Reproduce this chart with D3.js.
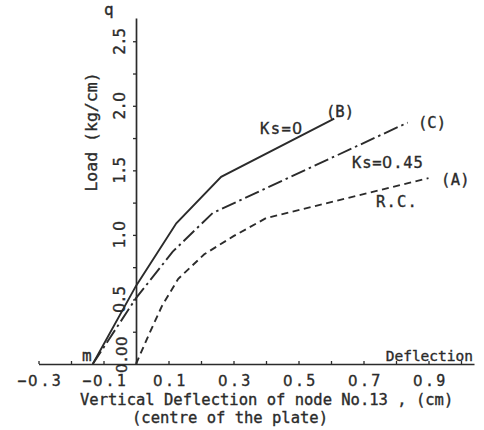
<!DOCTYPE html>
<html>
<head>
<meta charset="utf-8">
<script src="https://cdn.jsdelivr.net/npm/d3@7"></script>
<style>
  @font-face {
    font-family: "PlainZero";
    src: local("DejaVu Sans"), local("DejaVuSans");
    unicode-range: U+0030;
  }
  html, body { margin: 0; padding: 0; background: #fff; }
  svg { display: block; }
  text { font-family: "PlainZero", "DejaVu Sans Mono", monospace; fill: #2b2b2b; stroke: #2b2b2b; stroke-width: 0.35px; }
</style>
</head>
<body>
<svg id="chart" width="484" height="430"></svg>
<script>
// ---- data ----
// Curve (B): Ks = 0, solid
const curveB_x = [-0.133, 0.0, 0.124, 0.262, 0.61];
const curveB_q = [0.0, 0.605, 1.09, 1.45, 1.90];
// Curve (C): Ks = 0.45, dash-dot
const curveC_x = [-0.133, 0.0, 0.113, 0.236, 0.836];
const curveC_q = [0.0, 0.51, 0.87, 1.17, 1.87];
// Curve (A): R.C., dashed
const curveA_x = [0.0, 0.04, 0.08, 0.13, 0.21, 0.30, 0.40, 0.90];
const curveA_q = [0.0, 0.23, 0.45, 0.66, 0.85, 0.99, 1.13, 1.44];

const xTicks = [-0.3, -0.2, -0.1, 0.0, 0.1, 0.2, 0.3, 0.4, 0.5, 0.6, 0.7, 0.8, 0.9, 1.0];
const xTickLabels = [-0.3, -0.1, 0.1, 0.3, 0.5, 0.7, 0.9];
const yTicks = [0.25, 0.5, 0.75, 1.0, 1.25, 1.5, 1.75, 2.0, 2.25, 2.5];
const yTickLabels = [0.5, 1.0, 1.5, 2.0, 2.5];
const yZeroLabel = "0.00";

const xTitle1 = "Vertical Deflection of node No.13 , (cm)";
const xTitle2 = "(centre of the plate)";
const yTitle = "Load (kg/cm)";

// ---- drawing ----
const svg = d3.select("#chart");
const ink = "#2b2b2b";
const fontStack = '"PlainZero", "DejaVu Sans Mono", monospace';

const x = d3.scaleLinear().domain([-0.3, 1.04]).range([38.5, 474]);
const y = d3.scaleLinear().domain([0, 2.68]).range([364, 18]);

// X axis (ticks upward, labels below)
const xLs = 2.2;
const xAxis = d3.axisBottom(x)
  .tickValues(xTicks)
  .tickSizeInner(-3)
  .tickSizeOuter(0)
  .tickPadding(11)
  .tickFormat(d => xTickLabels.some(v => Math.abs(v - d) < 1e-9) ? d3.format(".1f")(d) : "");
const gx = svg.append("g").attr("transform", `translate(0,${y(0)})`).call(xAxis);
gx.attr("font-family", null).attr("font-size", null);
gx.select(".domain").attr("stroke", ink).attr("stroke-width", 1.7);
gx.selectAll(".tick line").attr("stroke", ink).attr("stroke-width", 1.3);
gx.selectAll(".tick text")
  .attr("fill", ink)
  .style("font-family", fontStack)
  .style("font-size", "15px")
  .style("letter-spacing", xLs + "px")
  .attr("dx", (xLs / 2) + "px");

// Y axis (ticks to the left, rotated labels)
const yAxis = d3.axisLeft(y)
  .tickValues(yTicks)
  .tickSizeInner(3)
  .tickSizeOuter(0)
  .tickFormat("");
const gy = svg.append("g").attr("transform", `translate(${x(0)},0)`).call(yAxis);
gy.select(".domain").attr("stroke", ink).attr("stroke-width", 1.7);
gy.selectAll(".tick line").attr("stroke", ink).attr("stroke-width", 1.3);

svg.append("g").selectAll("text")
  .data(yTickLabels)
  .join("text")
  .attr("transform", d => `translate(${x(0) - 11},${y(d)}) rotate(-90)`)
  .attr("text-anchor", "middle")
  .style("font-size", "16px")
  .style("letter-spacing", "-1px")
  .attr("dx", "-0.5px")
  .text(d => d3.format(".1f")(d));

svg.append("text")
  .attr("transform", `translate(${x(0) - 9},${y(0) - 9}) rotate(-90)`)
  .attr("text-anchor", "middle")
  .style("font-size", "14.5px")
  .style("letter-spacing", "-0.5px")
  .text(yZeroLabel);

// Curves
const line = d3.line().x(d => x(d[0])).y(d => y(d[1]));
const series = [
  { xs: curveB_x, qs: curveB_q, dash: null },
  { xs: curveC_x, qs: curveC_q, dash: "15,4,2.5,4" },
  { xs: curveA_x, qs: curveA_q, dash: "7,4.5" }
];
svg.append("g").selectAll("path")
  .data(series)
  .join("path")
  .attr("d", s => line(s.xs.map((v, i) => [v, s.qs[i]])))
  .attr("fill", "none")
  .attr("stroke", ink)
  .attr("stroke-width", 1.9)
  .attr("stroke-dasharray", s => s.dash);

// Annotations
function label(txt, px, py, opts = {}) {
  svg.append("text")
    .attr("x", px).attr("y", py)
    .attr("text-anchor", opts.anchor || "start")
    .style("font-size", (opts.size || 15.5) + "px")
    .style("letter-spacing", (opts.ls === undefined ? 1 : opts.ls) + "px")
    .text(txt);
}
label("Ks=0", 260, 134, { ls: 1.4 });
label("(B)", 326, 117, { ls: 0 });
label("(C)", 418, 128, { ls: 0 });
label("Ks=0.45", 352, 168, { ls: 0.8 });
label("(A)", 441, 185, { ls: 0.3 });
label("R.C.", 376, 207, { ls: 1.2 });
label("m", 82, 361, { ls: 0, size: 16 });
label("q", 104, 15, { ls: 0, size: 16 });
label("Deflection", 473, 361, { anchor: "end", ls: 0, size: 14.5 });

// Axis titles
svg.append("text")
  .attr("x", 80).attr("y", 405)
  .style("font-size", "15.5px")
  .text(xTitle1);
svg.append("text")
  .attr("x", 132).attr("y", 423)
  .style("font-size", "15.5px")
  .text(xTitle2);
svg.append("text")
  .attr("transform", `translate(97,132) rotate(-90)`)
  .attr("text-anchor", "middle")
  .style("font-size", "16.5px")
  .text(yTitle);
</script>
</body>
</html>
